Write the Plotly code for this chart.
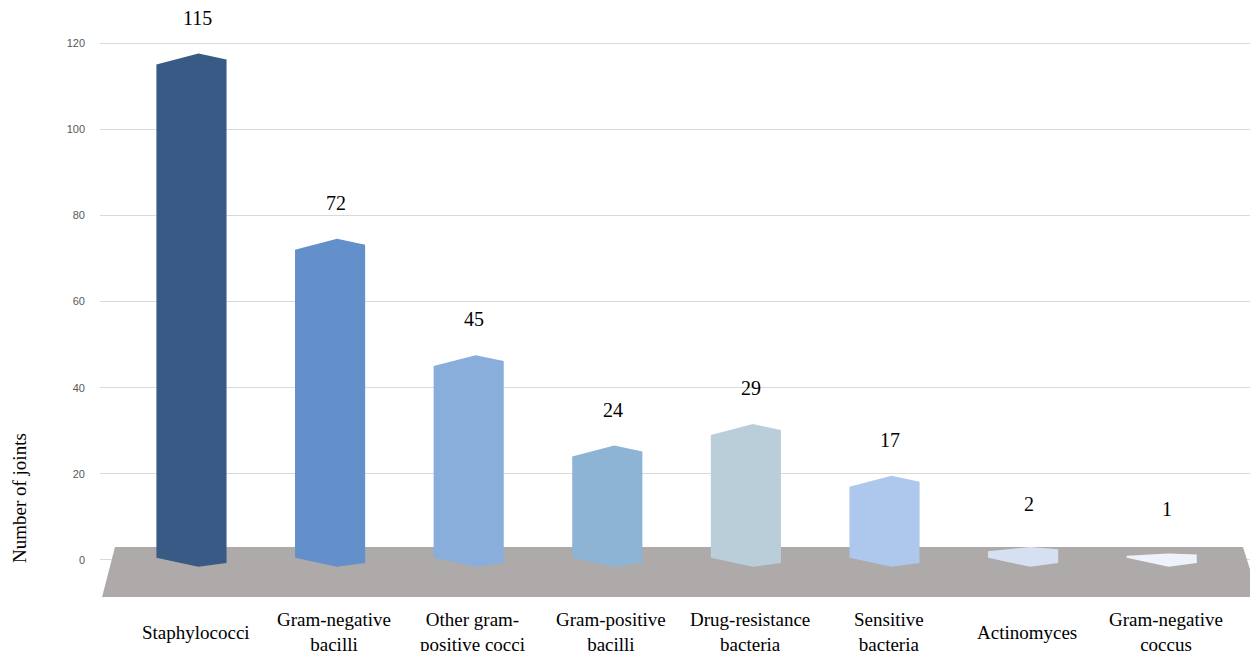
import plotly.graph_objects as go

# ---- data ----
categories = ["Staphylococci", "Gram-negative<br>bacilli", "Other gram-<br>positive cocci",
              "Gram-positive<br>bacilli", "Drug-resistance<br>bacteria", "Sensitive<br>bacteria",
              "Actinomyces", "Gram-negative<br>coccus"]
values = [115, 72, 45, 24, 29, 17, 2, 1]
bar_colors = ["#3A5A86", "#6390CB", "#8AAEDC", "#8DB3D5", "#BACED9", "#AEC7EC", "#D6E0F3", "#EEF3FB"]
y_ticks = [0, 20, 40, 60, 80, 100, 120]

# ---- style / geometry constants ----
HALF_W = 0.253      # half bar width (category units)
PEAK_DX = 0.05      # horizontal offset of the back/front vertex
TOP_PEAK = 2.55     # apparent rise of back vertex (data units)
TOP_RIGHT = 1.16
BOT_LEFT = 0.5
BOT_PEAK = -1.6
BOT_RIGHT = -0.7
LABEL_GAP = 10.9
FLOOR_TOP, FLOOR_BOT = 3.02, -8.6
X_RANGE = [-0.660, 7.637]
Y_RANGE = [-10.45, 123.02]
W, H = 1250, 651
M_L, M_R, M_T, M_B = 100, 0, 30, 46


def y_to_paper(v):
    return (v - Y_RANGE[0]) / (Y_RANGE[1] - Y_RANGE[0])


fig = go.Figure()

# floor
fig.add_trace(go.Scatter(
    x=[-0.552, 7.586, 7.70, -0.645, -0.552],
    y=[FLOOR_TOP, FLOOR_TOP, FLOOR_BOT, FLOOR_BOT, FLOOR_TOP],
    fill="toself", fillcolor="#ADAAA9", mode="lines", line=dict(width=0),
    hoverinfo="skip", showlegend=False))

# bars (hexagonal prisms)
for i, (v, col) in enumerate(zip(values, bar_colors)):
    tp = min(TOP_PEAK, 0.5 * v)
    tr = min(TOP_RIGHT, 0.25 * v)
    xs = [i - HALF_W, i + PEAK_DX, i + HALF_W, i + HALF_W, i + PEAK_DX, i - HALF_W, i - HALF_W]
    ys = [v, v + tp, v + tr, BOT_RIGHT, BOT_PEAK, BOT_LEFT, v]
    fig.add_trace(go.Scatter(
        x=xs, y=ys, fill="toself", fillcolor=col, mode="lines",
        line=dict(width=0, color=col), name=categories[i].replace("<br>", " "),
        hoveron="fills", showlegend=False))

annotations = []
# value labels
for i, v in enumerate(values):
    annotations.append(dict(
        x=i + 0.04, y=y_to_paper(v + LABEL_GAP), xref="x", yref="paper", text=str(v),
        showarrow=False, yanchor="middle", xanchor="center",
        font=dict(family="Liberation Serif", size=20, color="#000000")))
# category labels
for i, c in enumerate(categories):
    annotations.append(dict(
        x=i + 0.03, y=-0.047, xref="x", yref="paper", text=c, showarrow=False,
        yanchor="middle", xanchor="center",
        font=dict(family="Liberation Serif", size=19, color="#000000")))
# y axis title
plot_h = H - M_T - M_B
annotations.append(dict(
    x=(19 - M_L) / (W - M_L - M_R), y=(H - M_B - 498) / plot_h, xref="paper", yref="paper",
    text="Number of joints", showarrow=False, textangle=-90,
    xanchor="center", yanchor="middle",
    font=dict(family="Liberation Serif", size=19, color="#000000")))

fig.update_layout(
    width=W, height=H,
    margin=dict(l=M_L, r=M_R, t=M_T, b=M_B),
    paper_bgcolor="white", plot_bgcolor="white",
    showlegend=False,
    xaxis=dict(range=X_RANGE, showgrid=False, zeroline=False, showticklabels=False,
               showline=False, fixedrange=True),
    yaxis=dict(range=Y_RANGE, tickvals=y_ticks, showgrid=True, gridcolor="#D9D9D9",
               gridwidth=1, zeroline=False, showline=False,
               tickfont=dict(family="Liberation Sans", size=11, color="#595959"),
               ticklabelstandoff=14, fixedrange=True),
    annotations=annotations,
)

fig.write_html("out.html")
